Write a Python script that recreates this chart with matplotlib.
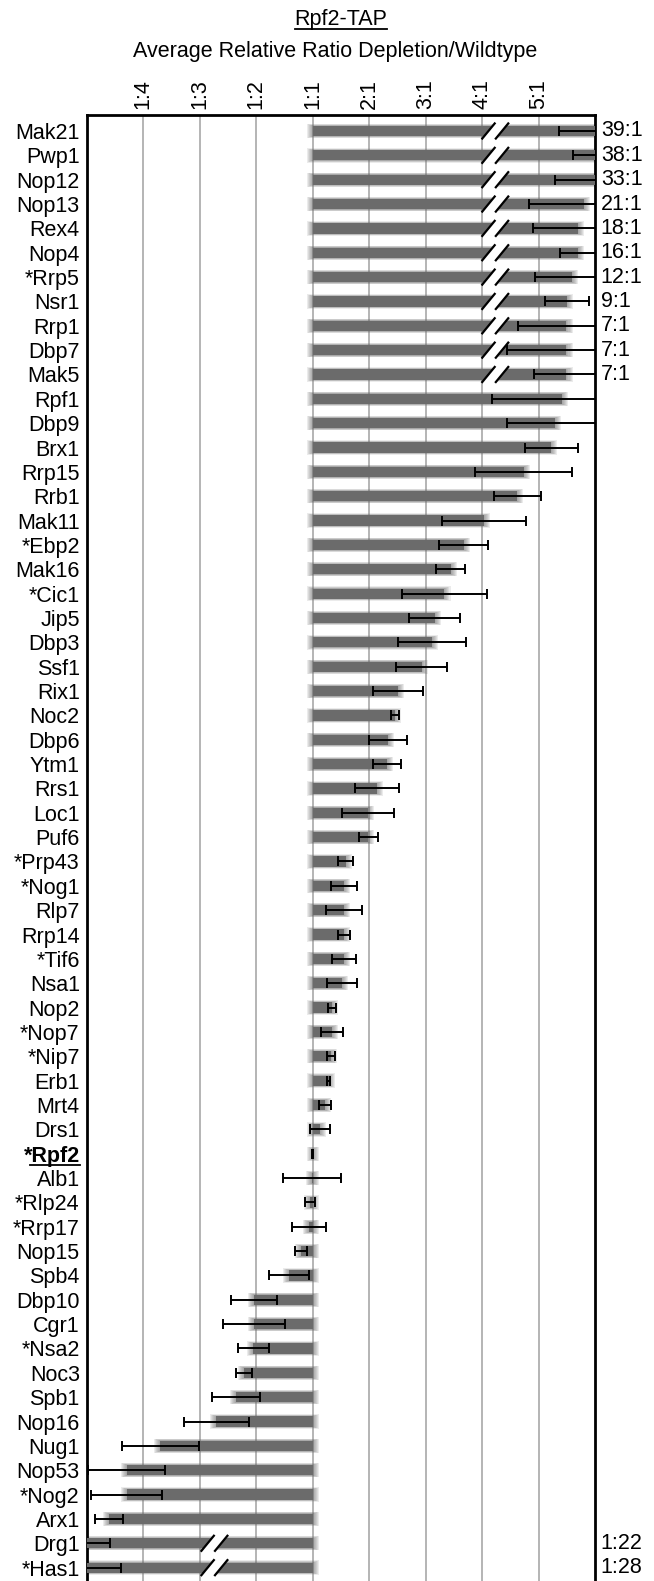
import matplotlib
matplotlib.use("Agg")
import matplotlib.pyplot as plt
from matplotlib.lines import Line2D
import numpy as np

plt.rcParams['font.family'] = ['Liberation Sans', 'DejaVu Sans']

# proteins, top to bottom
proteins = ["Mak21", "Pwp1", "Nop12", "Nop13", "Rex4", "Nop4", "*Rrp5", "Nsr1", "Rrp1", "Dbp7",
            "Mak5", "Rpf1", "Dbp9", "Brx1", "Rrp15", "Rrb1", "Mak11", "*Ebp2", "Mak16", "*Cic1",
            "Jip5", "Dbp3", "Ssf1", "Rix1", "Noc2", "Dbp6", "Ytm1", "Rrs1", "Loc1", "Puf6",
            "*Prp43", "*Nog1", "Rlp7", "Rrp14", "*Tif6", "Nsa1", "Nop2", "*Nop7", "*Nip7", "Erb1",
            "Mrt4", "Drs1", "*Rpf2", "Alb1", "*Rlp24", "*Rrp17", "Nop15", "Spb4", "Dbp10", "Cgr1",
            "*Nsa2", "Noc3", "Spb1", "Nop16", "Nug1", "Nop53", "*Nog2", "Arx1", "Drg1", "*Has1"]

# bar end on the plotted scale (0 = 1:1, 1 = 2:1, -1 = 1:2 ...), broken bars run past the frame
ratio = [5.40, 5.30, 5.20, 4.80, 4.70, 4.70, 4.59, 4.50, 4.49, 4.49,
         4.49, 4.41, 4.28, 4.22, 3.73, 3.62, 3.03, 2.67, 2.44, 2.33,
         2.16, 2.11, 1.93, 1.51, 1.46, 1.33, 1.32, 1.14, 0.98, 0.98,
         0.58, 0.55, 0.55, 0.55, 0.55, 0.51, 0.34, 0.34, 0.32, 0.28,
         0.22, 0.13, 0.0, -0.02, -0.05, -0.07, -0.21, -0.42, -1.04, -1.04,
         -1.05, -1.22, -1.36, -1.71, -2.70, -3.29, -3.29, -3.60, -4.30, -4.40]

err = [1.04, 0.69, 0.91, 0.97, 0.80, 0.33, 0.66, 0.39, 0.86, 1.05,
       0.57, 1.24, 0.85, 0.47, 0.86, 0.42, 0.75, 0.43, 0.26, 0.75,
       0.45, 0.60, 0.45, 0.44, 0.07, 0.33, 0.25, 0.39, 0.46, 0.17,
       0.125, 0.225, 0.315, 0.11, 0.21, 0.265, 0.07, 0.20, 0.07, 0.02,
       0.11, 0.18, 0.005, 0.515, 0.09, 0.30, 0.105, 0.36, 0.40, 0.55,
       0.275, 0.145, 0.425, 0.575, 0.68, 0.68, 0.63, 0.25, 0.71, 1.01]

tick_pos = [-3, -2, -1, 0, 1, 2, 3, 4]
tick_labels = ["1:4", "1:3", "1:2", "1:1", "2:1", "3:1", "4:1", "5:1"]

# rows with an axis break and the true ratio written beside them
broken_rows = [0, 1, 2, 3, 4, 5, 6, 7, 8, 9, 10, 58, 59]
broken_at = [3.0] * 11 + [-1.97, -1.97]
true_ratio = ["39:1", "38:1", "33:1", "21:1", "18:1", "16:1", "12:1", "9:1", "7:1", "7:1", "7:1",
              "1:22", "1:28"]

fs = 15.5
grey = "#6b6b6b"

fig = plt.figure(figsize=(6.54, 15.81), dpi=100)
ax = fig.add_axes([0.1326, 0.0, 0.7776, 1 - 115 / 1581])

rows = np.arange(len(proteins))
ratio = np.array(ratio)
left = np.minimum(ratio, 0)
width = np.abs(ratio)

# soft edged bars: stacked faint halos under the solid bar
for k in range(6, 0, -1):
    grow = 0.018 * k
    ax.barh(rows, width + 2 * grow, left=left - grow, height=0.42 + 0.028 * k, color=grey,
            alpha=0.13, linewidth=0, zorder=2)
ax.barh(rows, width, left=left, height=0.42, color=grey, linewidth=0, zorder=3)

# break marks
g, s, h = 0.24, 0.22, 0.31
for r, xb in zip(broken_rows, broken_at):
    ax.fill([xb, xb + g, xb + g + s, xb + s], [r + h, r + h, r - h, r - h],
            color="white", zorder=4, linewidth=0)
    ax.plot([xb, xb + s], [r + h, r - h], color="black", lw=1.6, zorder=5)
    ax.plot([xb + g, xb + g + s], [r + h, r - h], color="black", lw=1.6, zorder=5)

ax.errorbar(ratio, rows, xerr=err, fmt="none", ecolor="black", elinewidth=1.4,
            capsize=3.3, capthick=1.4, zorder=6)

for r, t in zip(broken_rows, true_ratio):
    ax.text(1.011, r, t, transform=ax.get_yaxis_transform(), ha="left", va="center",
            fontsize=fs, clip_on=False)

ax.set_xlim(-4, 5)
ax.set_ylim(-0.657 + 1466 / 24.35, -0.657)

ax.xaxis.tick_top()
ax.set_xticks(tick_pos)
ax.set_xticklabels(tick_labels, rotation=90, fontsize=fs)
ax.set_yticks(rows)
ax.set_yticklabels(proteins, fontsize=fs)
ax.tick_params(axis="x", length=0, pad=4)
ax.tick_params(axis="y", length=0, pad=5)

ax.grid(axis="x", color="#a8a8a8", lw=1.2, zorder=1)
ax.set_axisbelow(True)
for side in ["top", "left", "right"]:
    ax.spines[side].set_linewidth(2.0)
ax.spines["bottom"].set_visible(False)

title = fig.text(341 / 654, 1 - 20 / 1581, "Rpf2-TAP", ha="center", va="center", fontsize=fs)
fig.text(335 / 654, 1 - 52 / 1581, "Average Relative Ratio Depletion/Wildtype",
         ha="center", va="center", fontsize=fs)

# bold + underline for the bait
lab = ax.get_yticklabels()[proteins.index("*Rpf2")]
lab.set_fontweight("bold")

fig.canvas.draw()
for t in [title, lab]:
    bb = t.get_window_extent()
    y = bb.y0 + 2
    fig.add_artist(Line2D([bb.x0 + (bb.width * 0.12 if t is lab else 0), bb.x1], [y, y],
                          transform=None, color="black", lw=1.3))

fig.savefig("out.png", dpi=100)
